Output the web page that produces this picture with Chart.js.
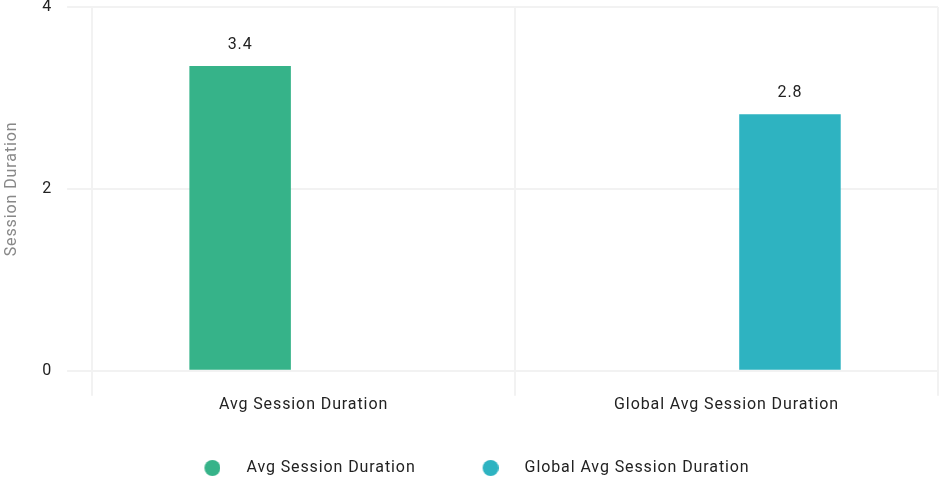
<!DOCTYPE html>
<html>
<head>
<meta charset="utf-8">
<script src="https://cdn.jsdelivr.net/npm/chart.js@4/dist/chart.umd.min.js"></script>
<style>
  html, body { margin: 0; padding: 0; background: #fff; }
  #wrap { width: 939px; height: 478px; }
</style>
</head>
<body>
<div id="wrap"><canvas id="myChart"></canvas></div>
<script>
const categories = ['Avg Session Duration', 'Global Avg Session Duration'];
const avgSession = [3.35, null];
const globalAvgSession = [null, 2.82];
const yTicks = [0, 2, 4];
const colors = ['#36b389', '#2eb3c1'];

Chart.defaults.font.family = 'Roboto, "Noto Sans", sans-serif';

// legend marker: 16px dot, shifted a bit right inside its box
function dot(color) {
    const c = document.createElement('canvas');
    c.width = 20;
    c.height = 16;
    const g = c.getContext('2d');
    g.fillStyle = color;
    g.beginPath();
    g.arc(12, 8, 8, 0, Math.PI * 2);
    g.fill();
    return c;
}

// the original text is slightly tracked out
const spacing = {
    id: 'spacing',
    beforeUpdate(chart) { chart.ctx.letterSpacing = '0.9px'; },
    beforeDraw(chart) { chart.ctx.letterSpacing = '0.9px'; },
    afterLayout(chart) {
        // legend sits a few px left of centre in the original
        chart.legend.left -= 3;
        chart.legend.right -= 3;
    },
};

// draws the value above every bar
const barValues = {
    id: 'barValues',
    afterDatasetsDraw(chart) {
        const ctx = chart.ctx;
        ctx.save();
        ctx.font = '16px Roboto, sans-serif';
        ctx.fillStyle = '#222';
        ctx.textAlign = 'center';
        ctx.textBaseline = 'bottom';
        chart.data.datasets.forEach((ds, i) => {
            chart.getDatasetMeta(i).data.forEach((bar, j) => {
                const v = ds.data[j];
                if (v == null) return;
                ctx.fillText(v.toFixed(1), bar.x, bar.y - 13);
            });
        });
        ctx.restore();
    }
};

let myChart = document.querySelector('#myChart');

let chart = new Chart(myChart, {
    type: 'bar',
    data: {
        labels: categories,
        datasets: [
            {
                label: 'Avg Session Duration',
                data: avgSession,
                backgroundColor: colors[0],
                pointStyle: dot(colors[0]),
                categoryPercentage: 0.6,
                barPercentage: 0.8,
            },
            {
                label: 'Global Avg Session Duration',
                data: globalAvgSession,
                backgroundColor: colors[1],
                pointStyle: dot(colors[1]),
                categoryPercentage: 0.6,
                barPercentage: 0.8,
            },
        ],
    },
    options: {
        responsive: true,
        maintainAspectRatio: false,
        animation: false,
        layout: { padding: { top: 0, right: 1, bottom: -8, left: 0 } },
        scales: {
            x: {
                grid: { color: '#f2f2f2', lineWidth: 2, tickLength: 25 },
                border: { color: '#f2f2f2', width: 2 },
                ticks: { color: '#222', font: { size: 16 }, padding: 0 },
            },
            y: {
                min: 0,
                max: 4,
                afterBuildTicks: (axis) => { axis.ticks = yTicks.map(v => ({ value: v })); },
                afterFit: (axis) => { axis.paddingTop = 7; },
                grid: { color: '#f2f2f2', lineWidth: 2, tickLength: 25 },
                border: { display: false },
                ticks: { color: '#222', font: { size: 16 }, padding: 15 },
                title: {
                    display: true,
                    text: 'Session Duration',
                    color: '#888',
                    font: { size: 16 },
                    padding: { top: 2, bottom: 6 },
                },
            },
        },
        plugins: {
            legend: {
                position: 'bottom',
                labels: {
                    usePointStyle: true,
                    pointStyleWidth: 56,
                    padding: 45,
                    color: '#222',
                    font: { size: 16 },
                },
            },
            tooltip: { enabled: false },
        },
    },
    plugins: [spacing, barValues],
});
</script>
</body>
</html>
